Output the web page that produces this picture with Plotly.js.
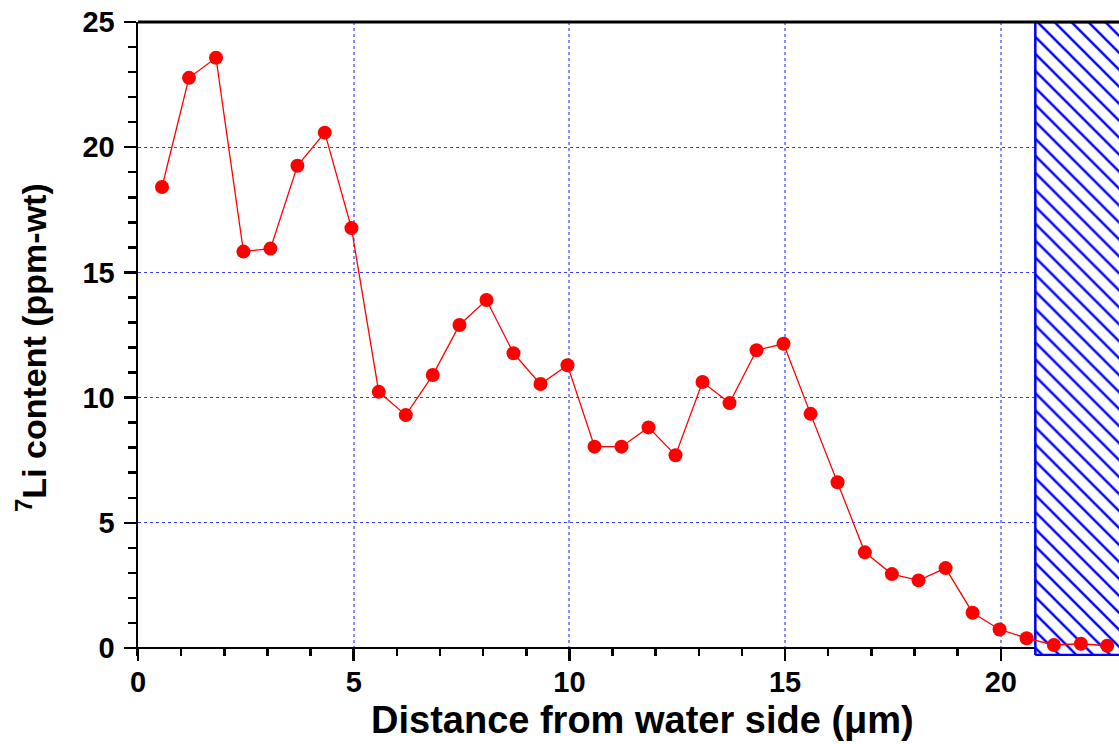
<!DOCTYPE html>
<html>
<head>
<meta charset="utf-8">
<script src="https://cdn.plot.ly/plotly-3.0.1.min.js"></script>
<style>html,body{margin:0;padding:0;background:#fff;}#chart{width:1119px;height:744px;}</style>
</head>
<body>
<div id="chart"></div>
<script>
// Distance from water side (µm)
const distance = [0.556, 1.182, 1.808, 2.444, 3.070, 3.696, 4.329, 4.948, 5.581, 6.207,
  6.833, 7.452, 8.078, 8.704, 9.330, 9.956, 10.582, 11.208, 11.834, 12.460,
  13.086, 13.712, 14.338, 14.964, 15.590, 16.216, 16.849, 17.475, 18.094, 18.720,
  19.346, 19.972, 20.598, 21.231, 21.857, 22.467];
// 7Li content (ppm-wt)
const liContent = [18.41, 22.77, 23.57, 15.83, 15.95, 19.26, 20.58, 16.77, 10.23, 9.30,
  10.90, 12.90, 13.90, 11.77, 10.54, 11.29, 8.04, 8.04, 8.81, 7.70,
  10.62, 9.78, 11.89, 12.15, 9.35, 6.62, 3.82, 2.95, 2.70, 3.19,
  1.41, 0.74, 0.39, 0.12, 0.17, 0.09];
// hatched region (oxide / metal side)
const hatchX = [20.80, 20.80, 23.6, 23.6, 20.80];
const hatchY = [-0.28, 25, 25, -0.28, -0.28];

const xRange = [0, 22.74];
const yRange = [-0.32, 25];
const xTickVals = [0, 5, 10, 15, 20];
const yTickVals = [0, 5, 10, 15, 20, 25];
const xTitle = 'Distance from water side (μm)';
const yTitle = '<sup>7</sup>Li content (ppm-wt)';

const fontFam = 'Arial, "Liberation Sans", sans-serif';

const traces = [
  {
    x: hatchX, y: hatchY, type: 'scatter', mode: 'lines',
    fill: 'toself', fillcolor: 'white',
    fillpattern: {shape: '\\', fgcolor: '#0000ff', bgcolor: 'white', size: 12, solidity: 0.2},
    line: {color: '#0000ff', width: 2.5},
    hoverinfo: 'skip', showlegend: false
  },
  {
    x: distance, y: liContent, type: 'scatter', mode: 'lines+markers',
    line: {color: '#ff0000', width: 1.3},
    marker: {color: '#ff0000', size: 14, line: {width: 0}},
    cliponaxis: false, showlegend: false
  }
];

const layout = {
  width: 1119, height: 744,
  margin: {l: 138, r: 0, t: 22, b: 88},
  paper_bgcolor: 'white', plot_bgcolor: 'white',
  showlegend: false,
  xaxis: {
    range: xRange, anchor: 'free', position: (0 - yRange[0]) / (yRange[1] - yRange[0]),
    layer: 'below traces',
    tickvals: xTickVals, ticktext: xTickVals.map(String),
    ticks: 'outside', ticklen: 12, tickwidth: 2.5, tickcolor: 'black',
    ticklabelstandoff: -4,
    minor: {dtick: 1, ticks: 'outside', ticklen: 7, tickwidth: 2.5, tickcolor: 'black', showgrid: false},
    showline: true, linecolor: 'black', linewidth: 2.5,
    showgrid: true, gridcolor: '#8a8aff', gridwidth: 2, griddash: 'dot',
    zeroline: false,
    tickfont: {family: fontFam, size: 29, weight: 700, color: 'black'}
  },
  yaxis: {
    range: yRange,
    tickvals: yTickVals, ticktext: yTickVals.map(String),
    ticks: 'outside', ticklen: 12, tickwidth: 2.5, tickcolor: 'black',
    ticklabelstandoff: 3,
    minor: {dtick: 1, ticks: 'outside', ticklen: 8, tickwidth: 2.5, tickcolor: 'black', showgrid: false},
    showline: true, linecolor: 'black', linewidth: 2.5,
    showgrid: true, gridcolor: '#3a3aff', gridwidth: 1.3, griddash: 'dot',
    zeroline: false,
    tickfont: {family: fontFam, size: 29, weight: 700, color: 'black'}
  },
  annotations: [
    {text: xTitle, xref: 'paper', yref: 'paper', x: 0.514, y: 0, yshift: -64,
     xanchor: 'center', yanchor: 'middle', showarrow: false,
     font: {family: fontFam, size: 38, weight: 700, color: 'black'}},
    {text: yTitle, xref: 'paper', yref: 'paper', x: 0, y: 0.486, xshift: -106,
     xanchor: 'center', yanchor: 'middle', textangle: -90, showarrow: false,
     font: {family: fontFam, size: 34, weight: 700, color: 'black'}}
  ],
  shapes: [
    {type: 'line', xref: 'paper', yref: 'paper', x0: 0, x1: 1, y0: 1, y1: 1,
     line: {color: 'black', width: 3}}
  ]
};

Plotly.newPlot('chart', traces, layout, {displayModeBar: false, staticPlot: true});
</script>
</body>
</html>
